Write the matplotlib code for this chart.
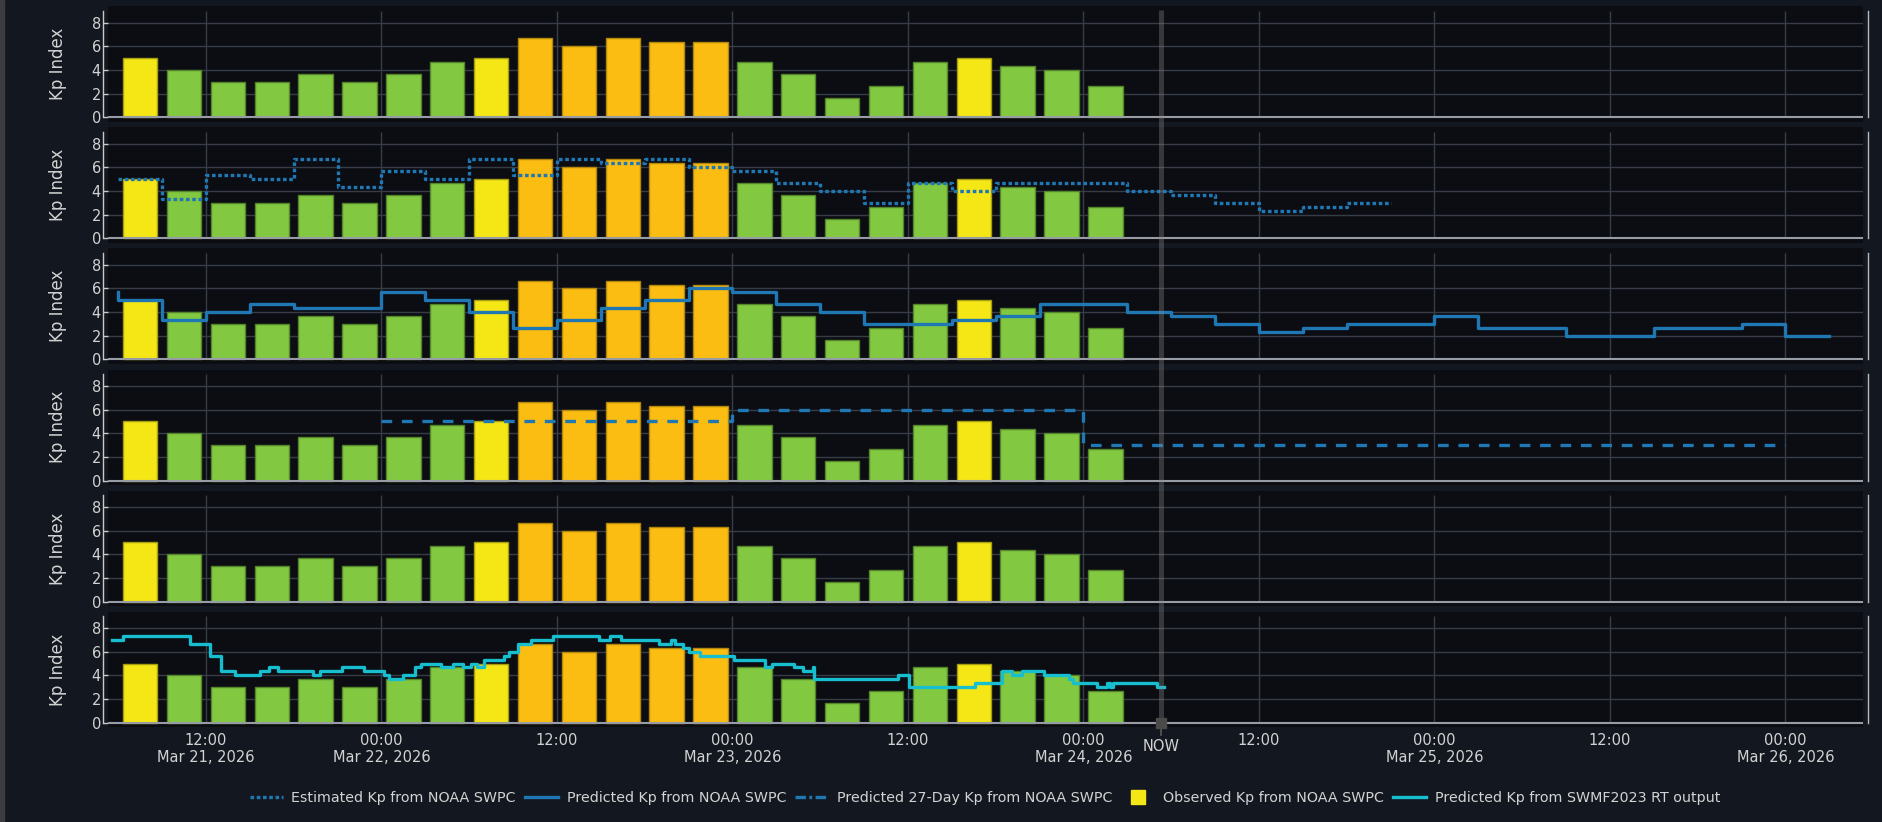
import matplotlib
matplotlib.use("Agg")
import matplotlib.pyplot as plt
import matplotlib.transforms as mtransforms
from matplotlib.lines import Line2D
from matplotlib.patches import Rectangle

plt.rcParams['font.family'] = ['DejaVu Sans']
plt.rcParams['lines.scale_dashes'] = False

# ---------------- data (hours since 2026-03-21 00:00) ----------------
NOW_H = 77.3
X_RANGE = (NOW_H - 72, NOW_H + 48)

# Observed Kp (3-hour bars, centre times)
obs_times = [7.5, 10.5, 13.5, 16.5, 19.5, 22.5, 25.5, 28.5, 31.5, 34.5, 37.5, 40.5,
             43.5, 46.5, 49.5, 52.5, 55.5, 58.5, 61.5, 64.5, 67.5, 70.5, 73.5]
obs_kp = [5.0, 4.0, 3.0, 3.0, 3.67, 3.0, 3.67, 4.67, 5.0, 6.67, 6.0, 6.67,
          6.33, 6.33, 4.67, 3.67, 1.67, 2.67, 4.67, 5.0, 4.33, 4.0, 2.67]

# Estimated Kp from NOAA SWPC (step, value applies to interval ending at time)
est_times = [6, 9, 12, 15, 18, 21, 24, 27, 30, 33, 36, 39, 42, 45, 48, 51, 54, 57,
             60, 63, 66, 69, 72, 75, 78, 81, 84, 87, 90, 93]
est_kp = [5.0, 5.0, 3.33, 5.33, 5.0, 6.67, 4.33, 5.67, 5.0, 6.67, 5.33, 6.67, 6.33,
          6.67, 6.0, 5.67, 4.67, 4.0, 3.0, 4.67, 4.0, 4.67, 4.67, 4.67, 4.0, 3.67,
          3.0, 2.33, 2.67, 3.0]

# Predicted Kp from NOAA SWPC
pred_times = [6, 9, 12, 15, 18, 21, 24, 27, 30, 33, 36, 39, 42, 45, 48, 51, 54, 57,
              60, 63, 66, 69, 72, 75, 78, 81, 84, 87, 90, 93, 96, 99, 102, 105, 108,
              111, 114, 117, 120, 123]
pred_kp = [5.67, 5.0, 3.33, 4.0, 4.67, 4.33, 4.33, 5.67, 5.0, 4.0, 2.67, 3.33, 4.33,
           5.0, 6.0, 5.67, 4.67, 4.0, 3.0, 3.0, 3.33, 3.67, 4.67, 4.67, 4.0, 3.67,
           3.0, 2.33, 2.67, 3.0, 3.0, 3.67, 2.67, 2.67, 2.0, 2.0, 2.67, 2.67, 3.0, 2.0]

# Predicted 27-day Kp from NOAA SWPC (daily)
day27_times = [24, 48, 72, 96, 120]
day27_kp = [5.0, 6.0, 3.0, 3.0, 3.0]

# Predicted Kp from SWMF2023 RT output (change points)
swmf_times = [5.6, 6.3, 10.9, 12.3, 13.0, 14.0, 15.7, 16.3, 16.9, 19.3, 19.8, 21.3,
              22.8, 24.2, 24.5, 25.5, 26.3, 26.7, 28.1, 28.9, 29.6, 30.1, 30.5, 31.0,
              32.4, 32.7, 33.3, 34.2, 35.7, 38.9, 39.6, 40.4, 43.0, 43.8, 44.1, 44.6,
              45.0, 45.8, 48.1, 50.2, 50.7, 52.2, 52.8, 53.5, 53.6, 59.3, 60.1, 64.6,
              66.4, 67.1, 67.8, 69.3, 71.0, 71.3, 72.9, 73.6, 73.8, 74.0, 77.0, 77.5]
swmf_kp = [7.0, 7.33, 6.67, 5.67, 4.33, 4.0, 4.33, 4.67, 4.33, 4.0, 4.33, 4.67,
           4.33, 4.0, 3.67, 4.0, 4.67, 5.0, 4.67, 5.0, 4.67, 5.0, 4.67, 5.33,
           5.67, 6.0, 6.67, 7.0, 7.33, 7.0, 7.33, 7.0, 6.67, 7.0, 6.67, 6.33,
           6.0, 5.67, 5.33, 4.67, 5.0, 4.67, 4.33, 4.67, 3.67, 4.0, 3.0, 3.33,
           4.33, 4.0, 4.33, 4.0, 3.67, 3.33, 3.0, 3.33, 3.0, 3.33, 3.0, 3.0]

tick_hours = [12, 24, 36, 48, 60, 72, 84, 96, 108, 120]
tick_labels = ["12:00\nMar 21, 2026", "00:00\nMar 22, 2026", "12:00",
               "00:00\nMar 23, 2026", "12:00", "00:00\nMar 24, 2026", "12:00",
               "00:00\nMar 25, 2026", "12:00", "00:00\nMar 26, 2026"]

legend_labels = ["Estimated Kp from NOAA SWPC", "Predicted Kp from NOAA SWPC",
                 "Predicted 27-Day Kp from NOAA SWPC", "Observed Kp from NOAA SWPC",
                 "Predicted Kp from SWMF2023 RT output"]

# ---------------- styling ----------------
FIG_BG = '#131820'
AX_BG = '#0b0d12'
GRID = '#383c47'
TXT = '#d2d2d2'
BLUE = '#1f77b4'
CYAN = '#17becf'
GREEN, GREEN_E = '#82c941', '#55852b'
YELLOW, YELLOW_E = '#f4e715', '#a79d12'
ORANGE, ORANGE_E = '#fbbd11', '#b3860c'


def kp_colors(v):
    if v >= 6:
        return ORANGE, ORANGE_E
    if v >= 5:
        return YELLOW, YELLOW_E
    return GREEN, GREEN_E


W, H = 1882, 822
fig = plt.figure(figsize=(W / 100, H / 100), dpi=100, facecolor=FIG_BG)
fig.patches.append(Rectangle((0, 0), 4 / W, 1, transform=fig.transFigure,
                             color='#3b3c3f', zorder=0))

PX_UNIT = 11.83
YMIN, YMAX = -0.37, 9.38
LEFT_PX, RIGHT_PX = 108, 1863

axes = []
for i in range(6):
    y0 = 117.3 + i * 121.08
    top = y0 - YMAX * PX_UNIT
    bot = y0 - YMIN * PX_UNIT
    ax = fig.add_axes([LEFT_PX / W, 1 - bot / H, (RIGHT_PX - LEFT_PX) / W, (bot - top) / H])
    ax.set_facecolor(AX_BG)
    ax.set_xlim(*X_RANGE)
    ax.set_ylim(YMIN, YMAX)
    for s in ['top', 'bottom']:
        ax.spines[s].set_visible(False)
    ax.spines['left'].set_bounds(0, 9)
    ax.spines['left'].set_position(('outward', 3.6))
    ax.spines['left'].set_color('#c9c9c9')
    ax.spines['left'].set_linewidth(1.0)
    ax.spines['right'].set_bounds(0, 9)
    ax.spines['right'].set_position(('outward', 3.6))
    ax.spines['right'].set_color('#b9b9b9')
    ax.spines['right'].set_linewidth(1.0)
    ax.set_yticks([0, 2, 4, 6, 8])
    ax.tick_params(axis='y', direction='in', length=3.6, width=1, color='#c9c9c9',
                   labelcolor=TXT, labelsize=10.5, pad=1.5, right=False)
    ax.set_xticks(tick_hours)
    if i == 5:
        ax.set_xticklabels(tick_labels)
        ax.tick_params(axis='x', length=0, labelcolor=TXT, labelsize=10.5, pad=4)
    else:
        ax.set_xticklabels([])
        ax.tick_params(axis='x', length=0)
    ax.set_ylabel("Kp Index", color=TXT, fontsize=12)
    ax.yaxis.set_label_coords(-0.0235, 0.5)
    for g in [2, 4, 6, 8]:
        ax.axhline(g, color=GRID, lw=1.0, zorder=0.5)
    ax.vlines(tick_hours, 0, 9, color=GRID, lw=1.0, zorder=0.5)
    ax.axhline(0, color='#989ca4', lw=1.5, zorder=2.5)

    cols = [kp_colors(v) for v in obs_kp]
    ax.bar(obs_times, obs_kp, width=2.35, color=[c[0] for c in cols],
           edgecolor=[c[1] for c in cols], linewidth=1.0, zorder=2)
    axes.append(ax)

axes[1].step(est_times, est_kp, where='pre', color=BLUE, lw=2.4,
             dashes=(2.6, 1.9), zorder=4)
axes[2].step(pred_times, pred_kp, where='pre', color=BLUE, lw=2.4, zorder=4)
axes[3].step(day27_times, day27_kp, where='post', color=BLUE, lw=2.4,
             dashes=(7.7, 7.0), zorder=4)
axes[5].step(swmf_times, swmf_kp, where='post', color=CYAN, lw=2.4, zorder=4)

# NOW marker
ax6 = axes[5]
tr = mtransforms.blended_transform_factory(ax6.transData, fig.transFigure)
fig.add_artist(Line2D([NOW_H, NOW_H], [1 - 10 / H, 1 - 723 / H], transform=tr,
                      color='#8a8a8a', alpha=0.35, lw=3.6, zorder=5,
                      solid_capstyle='butt'))
fig.add_artist(Line2D([NOW_H, NOW_H], [1 - 727 / H, 1 - 735 / H], transform=tr,
                      color='#5a5a5a', lw=1.2, zorder=5))
fig.add_artist(Line2D([NOW_H], [1 - 722.5 / H], transform=tr, marker='s',
                      markersize=6.5, color='#4a4a4a', lw=0, zorder=6))
fig.text(NOW_H, 1 - 746 / H, "NOW", transform=tr, ha='center', va='center',
         color=TXT, fontsize=10.5)

# Legend
handles = [
    Line2D([], [], color=BLUE, lw=2.4, dashes=(2.6, 1.9)),
    Line2D([], [], color=BLUE, lw=2.4),
    Line2D([], [], color=BLUE, lw=2.4, dashes=(7.5, 2.5, 2.0, 2.5)),
    Line2D([], [], color=YELLOW, marker='s', markersize=10, lw=0),
    Line2D([], [], color=CYAN, lw=2.4),
]
fig.legend(handles, legend_labels, loc='center', bbox_to_anchor=(985 / W, 1 - 798 / H),
           ncol=5, frameon=False, fontsize=10.3, labelcolor=TXT, handlelength=2.3,
           handletextpad=0.6, columnspacing=0.65)

fig.savefig("out.png", dpi=100, facecolor=FIG_BG)
